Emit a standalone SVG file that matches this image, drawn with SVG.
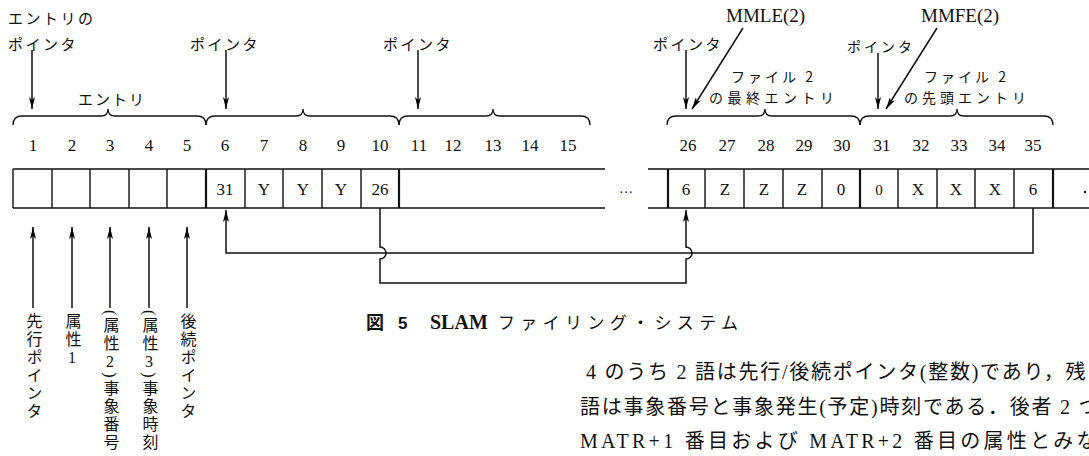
<svg xmlns="http://www.w3.org/2000/svg" width="1089" height="456" viewBox="0 0 1089 456">
<defs>
<marker id="ah" viewBox="0 0 12 6" refX="12" refY="3" markerWidth="12" markerHeight="6" orient="auto" markerUnits="userSpaceOnUse">
<path d="M0,0 L12,3 L0,6 L3,3 z" fill="#000"/>
</marker>
<style>
.jp{font-family:"Noto Sans CJK JP",sans-serif;font-size:15px;fill:#111;letter-spacing:2.5px}
.num{font-family:"Liberation Serif","Noto Sans CJK JP",serif;font-size:17px;fill:#111;text-anchor:middle}
.cellv{font-family:"Liberation Serif","Noto Sans CJK JP",serif;font-size:17px;fill:#111;text-anchor:middle}
.mm{font-family:"Liberation Serif",serif;font-size:19px;fill:#111}
.vt{font-family:"Liberation Serif","Noto Sans CJK JP",serif;font-size:16px;fill:#111;writing-mode:vertical-rl;text-orientation:mixed;letter-spacing:2px}
.up{text-orientation:upright}
.para{font-family:"Liberation Serif","Noto Sans CJK JP",serif;font-size:20px;fill:#111;letter-spacing:1.5px}
.ln{fill:none;stroke:#111;stroke-width:1.4}
.thk{fill:none;stroke:#111;stroke-width:2.2}
.br{fill:none;stroke:#111;stroke-width:1.3}
.arr{fill:none;stroke:#111;stroke-width:1.5;marker-end:url(#ah)}
</style>
</defs>

<g id="top-labels">
<text class="jp" x="8" y="24">エントリの</text>
<text class="jp" x="8" y="50">ポインタ</text>
<text class="jp" x="190" y="50">ポインタ</text>
<text class="jp" x="383" y="50">ポインタ</text>
<text class="jp" x="653" y="50">ポインタ</text>
<text class="jp" x="847" y="52" style="font-size:14px;letter-spacing:3px">ポインタ</text>
<text class="mm" x="726" y="22">MMLE(2)</text>
<text class="mm" x="921" y="22">MMFE(2)</text>
<text class="jp" x="731" y="82" style="font-size:14px;letter-spacing:3px">ファイル 2</text>
<text class="jp" x="709" y="103" style="font-size:14px;letter-spacing:4.5px">の最終エントリ</text>
<text class="jp" x="924" y="82" style="font-size:14px;letter-spacing:3px">ファイル 2</text>
<text class="jp" x="904" y="103" style="font-size:14px;letter-spacing:4px">の先頭エントリ</text>
<text class="jp" x="78" y="105" style="letter-spacing:2px">エントリ</text>
</g>

<g id="pointer-arrows">
<line class="arr" x1="32" y1="50" x2="32" y2="109"/>
<line class="arr" x1="226" y1="50" x2="226" y2="109"/>
<line class="arr" x1="418" y1="50" x2="418" y2="109"/>
<line class="arr" x1="686" y1="50" x2="686" y2="109"/>
<line class="arr" x1="743" y1="28" x2="692" y2="109"/>
<line class="arr" x1="878" y1="53" x2="878" y2="109"/>
<line class="arr" x1="937" y1="28" x2="886" y2="109"/>
</g>

<g id="braces">
<path class="br" d="M13,125 Q13,116 22,116 L101,116 Q108,116 108,109 Q108,116 115,116 L197,116 Q206,116 206,125"/>
<path class="br" d="M206,125 Q206,116 215,116 L296,116 Q303,116 303,109 Q303,116 310,116 L390,116 Q399,116 399,125"/>
<path class="br" d="M399,125 Q399,116 408,116 L486,116 Q493,116 493,109 Q493,116 500,116 L581,116 Q590,116 590,125"/>
<path class="br" d="M667,125 Q667,116 676,116 L758,116 Q765,116 765,109 Q765,116 772,116 L851,116 Q860,116 860,125"/>
<path class="br" d="M860,125 Q860,116 869,116 L950,116 Q957,116 957,109 Q957,116 964,116 L1044,116 Q1053,116 1053,125"/>
</g>

<g id="indices">
<text class="num" x="33" y="151">1</text>
<text class="num" x="72" y="151">2</text>
<text class="num" x="110" y="151">3</text>
<text class="num" x="149" y="151">4</text>
<text class="num" x="187" y="151">5</text>
<text class="num" x="225" y="151">6</text>
<text class="num" x="264" y="151">7</text>
<text class="num" x="303" y="151">8</text>
<text class="num" x="341" y="151">9</text>
<text class="num" x="380" y="151">10</text>
<text class="num" x="419" y="151">11</text>
<text class="num" x="453" y="151">12</text>
<text class="num" x="493" y="151">13</text>
<text class="num" x="530" y="151">14</text>
<text class="num" x="568" y="151">15</text>
<text class="num" x="688" y="151">26</text>
<text class="num" x="727" y="151">27</text>
<text class="num" x="766" y="151">28</text>
<text class="num" x="804" y="151">29</text>
<text class="num" x="842" y="151">30</text>
<text class="num" x="882" y="151">31</text>
<text class="num" x="921" y="151">32</text>
<text class="num" x="959" y="151">33</text>
<text class="num" x="997" y="151">34</text>
<text class="num" x="1033" y="151">35</text>
</g>

<g id="cells-left">
<path class="ln" d="M13,169 H399 M13,208 H399 M13,169 V208 M52,169 V208 M90,169 V208 M129,169 V208 M167,169 V208 M245,169 V208 M283,169 V208 M322,169 V208 M361,169 V208"/>
<path class="thk" d="M206,169 V208 M399,169 V208"/>
<path class="ln" d="M399,169 H605 M399,208 H605"/>
<text class="cellv" x="225" y="195">31</text>
<text class="cellv" x="264" y="195">Y</text>
<text class="cellv" x="303" y="195">Y</text>
<text class="cellv" x="341" y="195">Y</text>
<text class="cellv" x="380" y="195">26</text>
</g>

<g id="ellipsis">
<text class="cellv" x="626" y="193" style="font-size:14px">…</text>
</g>

<g id="cells-right">
<path class="ln" d="M648,169 H1089 M648,208 H1089 M705,169 V208 M744,169 V208 M783,169 V208 M822,169 V208 M898,169 V208 M937,169 V208 M975,169 V208 M1014,169 V208"/>
<path class="thk" d="M668,169 V208 M860,169 V208 M1053,169 V208"/>
<text class="cellv" x="686" y="195">6</text>
<text class="cellv" x="725" y="195">Z</text>
<text class="cellv" x="764" y="195">Z</text>
<text class="cellv" x="802" y="195">Z</text>
<text class="cellv" x="841" y="195">0</text>
<text class="cellv" x="879" y="195" style="font-size:15px">0</text>
<text class="cellv" x="918" y="195">X</text>
<text class="cellv" x="956" y="195">X</text>
<text class="cellv" x="995" y="195">X</text>
<text class="cellv" x="1033" y="195">6</text>
<circle cx="1085" cy="192" r="1.2" fill="#111"/>
</g>

<g id="connectors">
<path class="arr" d="M1033,208 V253 H226 V210"/>
<path class="arr" d="M380,208 V247 A6,6 0 0 1 380,259 V283 H686 V259 A6,6 0 0 0 686,247 V210"/>
<line class="arr" x1="33" y1="308" x2="33" y2="227"/>
<line class="arr" x1="72" y1="308" x2="72" y2="227"/>
<line class="arr" x1="110" y1="308" x2="110" y2="227"/>
<line class="arr" x1="149" y1="308" x2="149" y2="227"/>
<line class="arr" x1="187" y1="308" x2="187" y2="227"/>
</g>

<g id="field-labels">
<text class="vt" x="33" y="313">先行ポインタ</text>
<text class="vt" x="72" y="313">属性<tspan class="up">1</tspan></text>
<text class="vt" x="110" y="310">(属性<tspan class="up">2</tspan>)事象番号</text>
<text class="vt" x="149" y="310">(属性<tspan class="up">3</tspan>)事象時刻</text>
<text class="vt" x="187" y="313">後続ポインタ</text>
</g>

<g id="caption">
<text x="366" y="329" style="font-family:'Noto Sans CJK JP',sans-serif;font-size:18px;font-weight:bold;fill:#111">図</text>
<text x="398" y="329" style="font-family:'Liberation Sans',sans-serif;font-size:17px;font-weight:bold;fill:#111">5</text>
<text x="430" y="329" style="font-family:'Liberation Serif',serif;font-size:20px;font-weight:bold;fill:#111">SLAM</text>
<text x="498" y="329" textLength="240" lengthAdjust="spacing" style="font-family:'Noto Sans CJK JP',sans-serif;font-size:17px;fill:#111">ファイリング・システム</text>
</g>

<g id="body-text">
<text class="para" x="586" y="379" textLength="501" lengthAdjust="spacing">4 のうち 2 語は先行/後続ポインタ(整数)であり，残</text>
<text class="para" x="580" y="414" textLength="520" lengthAdjust="spacing">語は事象番号と事象発生(予定)時刻である．後者 2 つ</text>
<text class="para" x="580" y="448" textLength="518" lengthAdjust="spacing">MATR+1 番目および MATR+2 番目の属性とみな</text>
</g>
</svg>
